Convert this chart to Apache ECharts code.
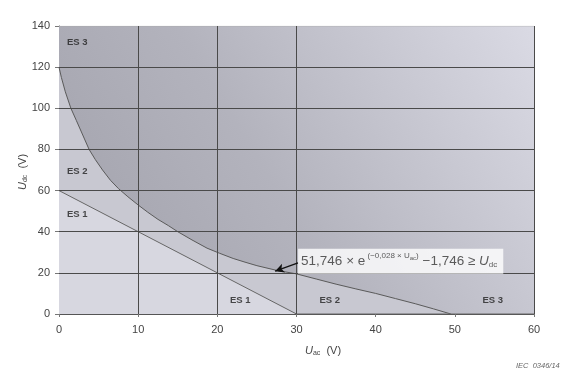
<!DOCTYPE html>
<html><head><meta charset="utf-8">
<script src="https://cdn.jsdelivr.net/npm/echarts@6/dist/echarts.min.js"></script>
<style>html,body{margin:0;padding:0;background:#fff}#c{width:578px;height:381px}</style>
</head><body><div id="c"></div>
<script>
// ---- data ----
const xMin = 0, xMax = 60, xStep = 10;
const yMin = 0, yMax = 140, yStep = 20;
const es2CurveX = [0, 0.3, 0.8, 1.5, 2.2, 3, 3.8, 4.6, 5.5, 6.5, 7.5, 8.7, 10, 11.2, 12.5, 13.8, 15, 16.8, 18.7, 20.3, 22, 23.5, 25, 27.5, 30, 32.5, 35, 37.5, 40, 42.5, 45, 47.3, 49.5];
const es2CurveY = [120, 115, 108, 100, 94, 87, 80, 75, 70, 65, 61, 57, 53, 49.5, 46, 43, 40, 36, 32, 29.5, 27, 25.2, 23.5, 21.2, 19.5, 17, 14.5, 12.2, 10, 7.5, 5, 2.5, 0];
const es1LineX = [0, 30, 60];
const es1LineY = [60, 0, 0];
const vGridX = [10, 20, 30];
const hGridY = [20, 40, 60, 80, 100, 120];
const regionNames = ['ES 3', 'ES 2', 'ES 1', 'ES 1', 'ES 2', 'ES 3'];
const regionAt = [[1, 132], [1, 69.5], [1, 48.5], [22.9, 6.8], [34.2, 6.8], [54.8, 6.8]];
const regionAlign = ['left', 'left', 'left', 'center', 'center', 'center'];
const formulaAnchor = [30.2, 25.6];
const arrowFrom = [30.2, 24.8];
const arrowTo = [27.3, 20.8];

// ---- build ----
const zip = (a, b) => a.map((v, i) => [v, b[i]]);
const chart = echarts.init(document.getElementById('c'), null, {renderer: 'canvas'});
const font = 'Liberation Sans, Arial, sans-serif';

const gridLines = [];
vGridX.forEach(x => gridLines.push([{coord: [x, yMin]}, {coord: [x, yMax]}]));
hGridY.forEach(y => gridLines.push([{coord: [xMin, y]}, {coord: [xMax, y]}]));
gridLines.push([{coord: [xMax, yMin]}, {coord: [xMax, yMax]}]);

chart.setOption({
  animation: false,
  backgroundColor: '#ffffff',
  grid: {left: 59, right: 44, top: 26, bottom: 67},
  xAxis: {
    type: 'value', min: xMin, max: xMax, interval: xStep,
    axisLine: {lineStyle: {color: '#555', width: 1}},
    axisTick: {show: true, length: 3, lineStyle: {color: '#777'}},
    axisLabel: {color: '#444', fontSize: 11, fontFamily: font, margin: 10},
    splitLine: {show: false}
  },
  yAxis: {
    type: 'value', min: yMin, max: yMax, interval: yStep,
    axisLine: {show: true, lineStyle: {color: '#555', width: 1}},
    axisTick: {show: true, length: 4, lineStyle: {color: '#777'}},
    axisLabel: {color: '#444', fontSize: 11, fontFamily: font, margin: 9},
    splitLine: {show: false}
  },
  series: [
    {
      type: 'line', symbol: 'none', z: 1,
      data: [[xMin, yMax], [xMax, yMax]],
      lineStyle: {width: 0.6, color: '#aaa'},
      areaStyle: {
        opacity: 1,
        color: new echarts.graphic.LinearGradient(0, 1, 1, 0, [
          {offset: 0, color: '#a0a0aa'},
          {offset: 0.45, color: '#b3b3bd'},
          {offset: 1, color: '#dadae4'}
        ])
      }
    },
    {
      type: 'line', symbol: 'none', z: 2,
      data: zip(es2CurveX, es2CurveY),
      lineStyle: {width: 1, color: '#5a5a5a'},
      areaStyle: {opacity: 1, color: '#c8c8d1'}
    },
    {
      type: 'line', symbol: 'none', z: 3,
      data: zip(es1LineX, es1LineY),
      lineStyle: {width: 1, color: '#666'},
      areaStyle: {opacity: 1, color: '#d7d7e0'}
    },
    {
      type: 'line', data: [], z: 4,
      markLine: {
        silent: true, symbol: ['none', 'none'], label: {show: false},
        lineStyle: {color: '#4a4a4a', width: 1, type: 'solid'},
        data: gridLines
      }
    },
    {
      type: 'line', data: [], z: 6,
      markLine: {
        silent: true, symbol: ['none', 'arrow'], symbolSize: [7, 9], label: {show: false},
        lineStyle: {color: '#111', width: 1.3, type: 'solid'},
        data: [[{coord: arrowFrom}, {coord: arrowTo}]]
      }
    },
    {
      type: 'scatter', z: 7, symbolSize: 0,
      data: regionAt.map((p, i) => ({
        value: p,
        label: {
          show: true, formatter: regionNames[i], position: 'inside', align: regionAlign[i],
          color: '#222', fontSize: 9.5, fontWeight: 'bold', fontFamily: font
        }
      }))
    },
    {
      type: 'scatter', z: 8, symbolSize: 0,
      data: [{
        value: formulaAnchor,
        label: {
          show: true, position: 'right', distance: 0,
          backgroundColor: '#ffffff', padding: [3, 6, 3, 3],
          formatter: '{n|51,746 \u00d7 e}{s| (\u22120,028 \u00d7 U}{ss|ac}{s|)}{n| \u22121,746 \u2265 }{i|U}{sb|dc}',
          rich: {
            n: {fontSize: 13.5, color: '#333', fontFamily: font},
            i: {fontSize: 13.5, color: '#333', fontFamily: font, fontStyle: 'italic'},
            s: {fontSize: 8, color: '#333', fontFamily: font, padding: [0, 0, 11, 0]},
            ss: {fontSize: 6, color: '#333', fontFamily: font, padding: [0, 0, 5, 0]},
            sb: {fontSize: 8, color: '#333', fontFamily: font, padding: [7, 0, 0, 0]}
          }
        }
      }]
    }
  ],
  graphic: [
    {
      type: 'text', left: 305, top: 345,
      style: {
        text: '{i|U}{sb|ac}{n|  (V)}',
        rich: {
          i: {fontSize: 11, fontStyle: 'italic', fill: '#444', fontFamily: font},
          sb: {fontSize: 7, fill: '#444', fontFamily: font, padding: [5, 0, 0, 0]},
          n: {fontSize: 11, fill: '#444', fontFamily: font}
        }
      }
    },
    {
      type: 'text', x: 17, y: 190, rotation: Math.PI / 2,
      style: {
        text: '{i|U}{sb|dc}{n|  (V)}',
        rich: {
          i: {fontSize: 11, fontStyle: 'italic', fill: '#444', fontFamily: font},
          sb: {fontSize: 7, fill: '#444', fontFamily: font, padding: [5, 0, 0, 0]},
          n: {fontSize: 11, fill: '#444', fontFamily: font}
        }
      }
    },
    {
      type: 'text', left: 516, top: 362,
      style: {text: 'IEC  0346/14', fontSize: 7.5, fontStyle: 'italic', fill: '#666', fontFamily: font}
    }
  ]
});
</script>
</body></html>
